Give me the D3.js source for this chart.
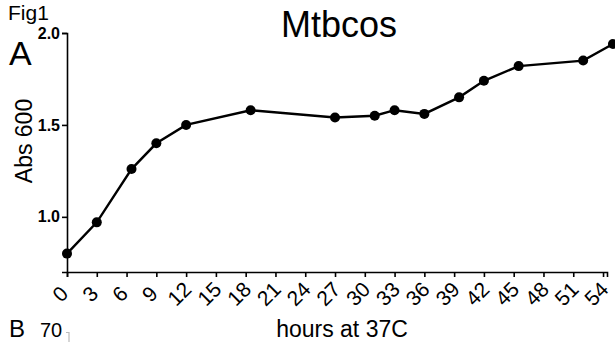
<!DOCTYPE html>
<html>
<head>
<meta charset="utf-8">
<script src="https://cdn.jsdelivr.net/npm/d3@7"></script>
<style>
  body { margin: 0; background: #fff; }
  svg { display: block; font-family: "Liberation Sans", Arial, sans-serif; }
</style>
</head>
<body>
<div id="chart"></div>
<script>
// hours of growth and optical density
const hours = [0, 3, 6.5, 9, 12, 18.5, 27, 31, 33, 36, 39.5, 42, 45.5, 52, 55];
const absValues = [0.80, 0.97, 1.26, 1.40, 1.50, 1.58, 1.54, 1.55, 1.58, 1.56, 1.65, 1.74, 1.82, 1.85, 1.94];
const xTicks = [0, 3, 6, 9, 12, 15, 18, 21, 24, 27, 30, 33, 36, 39, 42, 45, 48, 51, 54];
const yTicks = [1.0, 1.5, 2.0];

const W = 615, H = 342;
const margin = { top: 33, right: 8, bottom: 70, left: 67 };
const width = W - margin.left - margin.right;
const height = H - margin.top - margin.bottom;

const data = hours.map((h, i) => ({ hour: h, value: absValues[i] }));

const svg = d3
  .select("#chart")
  .append("svg")
  .attr("width", W)
  .attr("height", H);

const g = svg
  .append("g")
  .attr("transform", "translate(" + margin.left + "," + margin.top + ")");

const xScale = d3.scaleLinear().domain([0, 54.4]).range([0, width]);
const yScale = d3.scaleLinear().domain([0.7, 2.0]).range([height, 0]);

// x axis, labels turned 45 degrees round their middle
const xAxis = d3.axisBottom(xScale).tickValues(xTicks).tickSize(5);
const xg = g
  .append("g")
  .attr("transform", "translate(0," + height + ")")
  .call(xAxis)
  .attr("font-size", null)
  .attr("font-family", null);
xg.select(".domain").attr("stroke", "#000").attr("stroke-width", 1.6);
xg.selectAll(".tick line").attr("stroke", "#000").attr("stroke-width", 1.6);
xg.selectAll(".tick text")
  .style("font-size", "21px")
  .attr("fill", "#000")
  .attr("text-anchor", "middle")
  .attr("y", 0)
  .attr("dy", 0)
  .attr("transform", "translate(-2,27) rotate(-45)");

// y axis
const yAxis = d3.axisLeft(yScale).tickValues(yTicks).tickFormat(d3.format(".1f")).tickSize(5).tickPadding(2);
const yg = g.append("g").call(yAxis).attr("font-family", null);
yg.select(".domain").attr("stroke", "#000").attr("stroke-width", 1.6);
yg.selectAll(".tick line").attr("stroke", "#000").attr("stroke-width", 1.6);
yg.selectAll(".tick text")
  .style("font-size", "16px")
  .attr("font-weight", "bold")
  .attr("fill", "#000");

// the growth curve
const line = d3
  .line()
  .x((d) => xScale(d.hour))
  .y((d) => yScale(d.value));

g.append("path")
  .datum(data)
  .attr("d", line)
  .attr("fill", "none")
  .attr("stroke", "#000")
  .attr("stroke-width", 2.4);

g.selectAll(".dot")
  .data(data)
  .enter()
  .append("circle")
  .attr("class", "dot")
  .attr("cx", (d) => xScale(d.hour))
  .attr("cy", (d) => yScale(d.value))
  .attr("r", 5)
  .attr("fill", "#000");

// labels
svg.append("text")
  .attr("x", 339)
  .attr("y", 37)
  .attr("text-anchor", "middle")
  .attr("font-size", 36)
  .text("Mtbcos");

svg.append("text")
  .attr("x", 8)
  .attr("y", 20)
  .attr("font-size", 21)
  .text("Fig1");

svg.append("text")
  .attr("x", 9)
  .attr("y", 65)
  .attr("font-size", 34)
  .text("A");

svg.append("text")
  .attr("transform", "translate(32,141) rotate(-90)")
  .attr("text-anchor", "middle")
  .attr("font-size", 23)
  .text("Abs 600");

svg.append("text")
  .attr("x", 342)
  .attr("y", 337)
  .attr("text-anchor", "middle")
  .attr("font-size", 23)
  .text("hours at 37C");

svg.append("text")
  .attr("x", 9)
  .attr("y", 337)
  .attr("font-size", 24)
  .text("B");

svg.append("text")
  .attr("x", 40)
  .attr("y", 337)
  .attr("font-size", 20)
  .text("70");

svg.append("path")
  .attr("d", "M66,332.5H69V342")
  .attr("fill", "none")
  .attr("stroke", "#bbb")
  .attr("stroke-width", 1.2);
</script>
</body>
</html>
